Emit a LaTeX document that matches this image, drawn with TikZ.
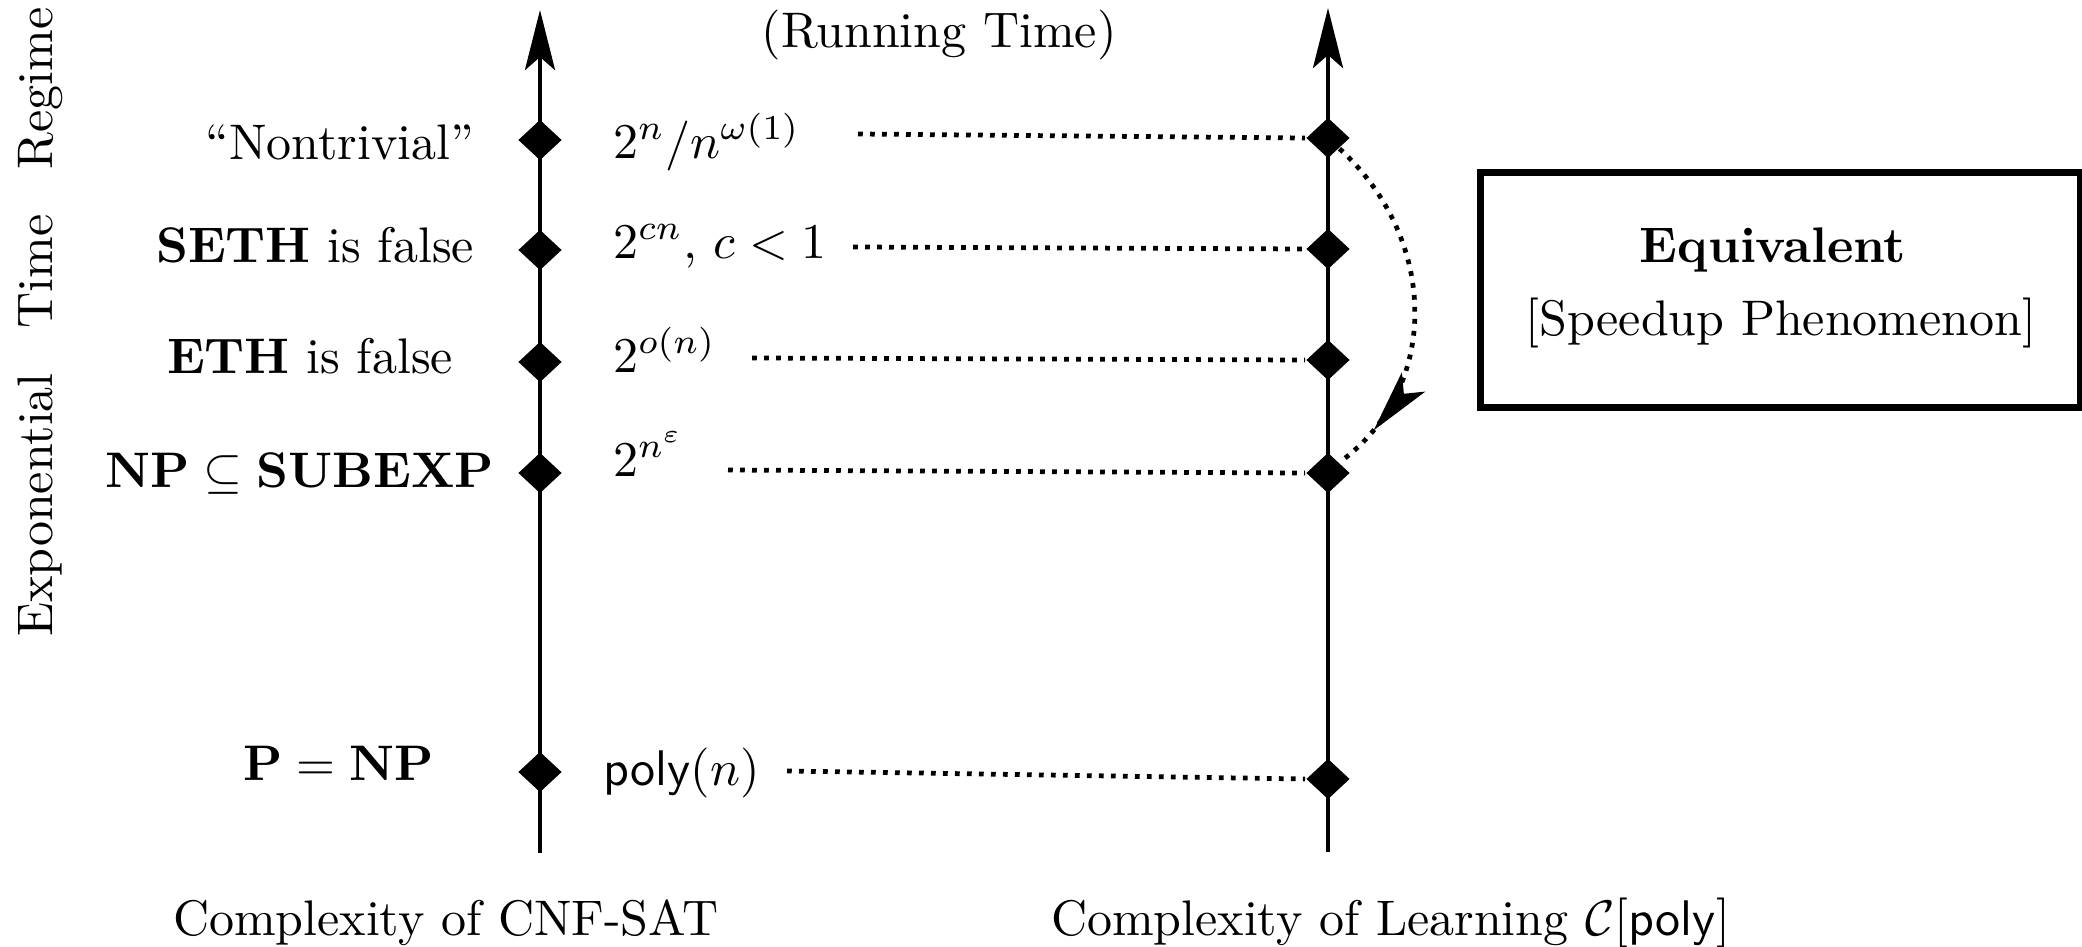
\documentclass[tikz,border=0pt]{standalone}
\usetikzlibrary{arrows.meta,shapes.geometric,decorations.markings}
\begin{document}
\begin{tikzpicture}[x=0.2pt,y=-0.2pt,
  gem/.style={diamond,fill=black,inner sep=0pt,minimum width=8.8pt,minimum height=8.2pt},
  axisline/.style={line width=0.9pt,-{Stealth[length=12pt,width=6pt,inset=2.6pt]}},
  guide/.style={line width=0.95pt,dash pattern=on 0.95pt off 1.45pt},
  lbl/.style={inner sep=0pt},
  frame/.style={draw,line width=1.4pt,minimum width=120pt,minimum height=46.8pt,inner sep=0pt},
]
\useasboundingbox (0,0) rectangle (2082,947);

% the two time axes
\coordinate (Lbot) at (540,853);
\coordinate (Ltop) at (540,10);
\coordinate (Rbot) at (1328,852);
\coordinate (Rtop) at (1328,8);
\draw[axisline] (Lbot) -- (Ltop);
\draw[axisline] (Rbot) -- (Rtop);

% markers on the CNF-SAT axis
\node[gem] (L1) at (540,140) {};
\node[gem] (L2) at (540,250) {};
\node[gem] (L3) at (540,362) {};
\node[gem] (L4) at (540,473) {};
\node[gem] (L5) at (540,772) {};

% markers on the learning axis
\node[gem] (R1) at (1328,138) {};
\node[gem] (R2) at (1328,249) {};
\node[gem] (R3) at (1328,360) {};
\node[gem] (R4) at (1328,473) {};
\node[gem] (R5) at (1328,779) {};

% hypotheses
\node[lbl,anchor=base east] (h1) at (475,160) {``Nontrivial''};
\node[lbl,anchor=base east] (h2) at (475,262) {\textbf{SETH} is false};
\node[lbl,anchor=base east] (h3) at (454,373) {\textbf{ETH} is false};
\node[lbl,anchor=base east] (h4) at (495,487) {$\mathbf{NP}\subseteq\mathbf{SUBEXP}$};
\node[lbl,anchor=base east] (h5) at (435,780) {$\mathbf{P}=\mathbf{NP}$};

% running times
\node[lbl,anchor=base west] (t1) at (612,158) {$2^n/n^{\omega(1)}$};
\node[lbl,anchor=base west] (t2) at (612,258) {$2^{cn}$, $c<1$};
\node[lbl,anchor=base west] (t3) at (612,372) {$2^{o(n)}$};
\node[lbl,anchor=base west] (t4) at (612,476) {$2^{n^{\varepsilon}}$};
\node[lbl,anchor=base west] (t5) at (602,785) {$\mathsf{poly}(n)$};

% dotted guides to the learning axis
\coordinate (s1) at (858,134);
\coordinate (s2) at (853,247);
\coordinate (s3) at (752,358);
\coordinate (s4) at (728,470);
\coordinate (s5) at (787,771);
\draw[guide] (s1) -- (R1.west);
\draw[guide] (s2) -- (R2.west);
\draw[guide] (s3) -- (R3.west);
\draw[guide] (s4) -- (R4.west);
\draw[guide] (s5) -- (R5.west);

% speedup arrow
\draw[guide,postaction={decorate},
  decoration={markings,mark=at position 0.87 with {\arrow{Stealth[length=12.5pt,width=6pt,inset=3pt]}}}]
  (R1.south east) .. controls (1440,240) and (1440,390) .. (R4.north east);

% titles
\node[lbl,anchor=base] (rt) at (939,48) {(Running Time)};
\node[lbl,rotate=90,anchor=base] (regime) at (53,322) {Exponential\hspace{9pt}Time\hspace{9pt}Regime};
\node[lbl,anchor=base west] (cnf) at (172,935) {Complexity of CNF-SAT};
\node[lbl,anchor=base west] (learn) at (1050,935) {Complexity of Learning $\mathcal{C}[\mathsf{poly}]$};

% equivalence box
\node[frame] (eq) at (1780,290) {};
\node[lbl,anchor=base] (eqa) at (1773,262) {\textbf{Equivalent}};
\node[lbl,anchor=base] (eqb) at (1781,335) {[Speedup Phenomenon]};
\end{tikzpicture}
\end{document}
